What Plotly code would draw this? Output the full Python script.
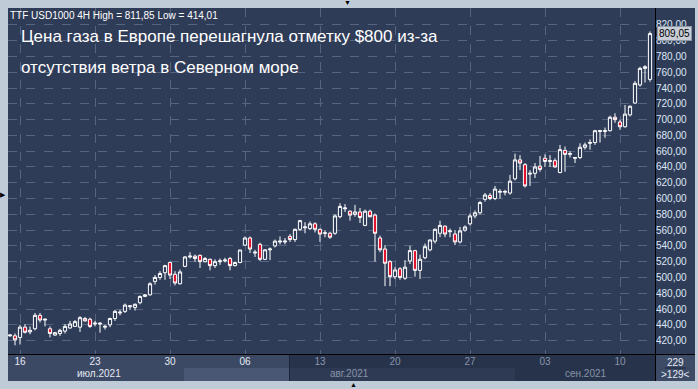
import plotly.graph_objects as go

W, H = 698, 389

# ---------------- data ----------------
bar_index = list(range(129))
open_ = [426, 426, 424, 437, 431, 435, 452, 446, 435, 427,
         429, 432, 436, 438, 437, 448, 447, 441, 441, 437,
         440, 448, 455, 457, 463, 462, 468, 476, 478, 495,
         500, 506, 519, 504, 492, 514, 526, 527, 528, 520,
         523, 515, 520, 521, 524, 515, 519, 541, 550, 531,
         542, 523, 535, 540, 545, 545, 552, 548, 561, 563,
         562, 568, 561, 556, 556, 556, 577, 587, 584, 580,
         583, 566, 584, 579, 550, 536, 520, 501, 511, 499,
         521, 534, 509, 525, 535, 546, 556, 565, 558, 555,
         545, 560, 568, 578, 582, 599, 604, 600, 608, 608,
         607, 625, 649, 643, 631, 632, 641, 651, 647, 648,
         633, 661, 656, 651, 652, 665, 670, 671, 685, 685,
         686, 703, 697, 691, 706, 721, 744, 765, 751]
high_ = [428, 429, 440, 441, 438, 455, 455, 448, 438, 431,
         435, 441, 445, 446, 451, 450, 449, 445, 443, 440,
         449, 459, 459, 467, 464.5, 467, 477, 479, 494, 503,
         508, 516, 520, 508, 510, 527, 532, 529, 529, 526,
         524, 523, 524, 525, 526, 520, 535, 552, 552, 535,
         544, 536, 538, 548, 552, 550, 555, 562, 573, 570,
         571, 570, 562, 560, 558, 580, 594, 593, 585, 592,
         588, 586, 586, 581, 553, 541, 522, 513, 513, 522,
         540, 535, 529, 543, 548, 562, 572, 566, 562, 560,
         564, 566, 581, 585, 597, 607, 607, 616, 612, 611,
         630, 657, 655, 645, 636, 645, 654, 656, 655, 651,
         668, 666, 660, 652.5, 670, 671, 675, 687, 687, 690,
         705, 708, 700, 718.6, 718, 749, 767, 769, 811.85]
low_ = [425, 414.01, 415, 429, 428, 433, 443, 438, 424, 426,
        426, 429, 435, 438, 431, 444, 436, 438, 430, 434,
        437, 445, 452, 455, 459, 458, 466, 475, 477, 491,
        497, 497, 498, 490, 491, 513, 524, 520, 512, 519,
        509, 512, 516, 519, 509, 514, 518, 540, 531, 526,
        521, 522, 522, 538, 542, 542, 545, 545, 559, 556,
        560, 557, 545, 551, 549, 554, 575, 583, 572, 577,
        569, 565, 576, 520, 532, 489, 489, 498, 497, 497,
        517, 501, 498, 523, 533, 543, 551, 551, 551, 541,
        543, 558, 566, 575, 580, 596, 598, 598, 600, 604,
        605, 623, 636, 614, 616, 626, 634, 640, 640, 639,
        632, 634, 652, 645, 650, 662, 662, 668, 671, 677,
        685, 696, 687, 690, 704, 720, 742, 747, 748]
close_ = [427, 421, 437, 430.5, 433, 452, 446, 447, 429, 430,
          433, 438, 441, 444, 449, 445, 438, 442, 442, 438,
          448, 457, 456, 465, 464, 466, 476, 478, 492, 500,
          505, 515, 503, 493, 507, 526, 527, 524, 520, 524,
          515, 520, 521, 522, 515, 519, 534.8, 550, 536, 532,
          523, 535, 536, 546, 546, 546, 548, 561, 572, 564,
          568, 561, 555, 556.5, 551, 578, 590, 588, 579, 583,
          576, 584, 577, 556, 535, 518, 501, 509.5, 500, 513,
          534, 509, 523, 539, 547.5, 561, 566, 555, 559, 545,
          559, 564, 578, 582, 595, 604.5, 600, 612, 609, 609,
          622, 649, 645, 616, 632, 640, 637, 647, 648, 640,
          662, 656, 657, 652, 665, 668, 671, 686, 686, 686,
          703, 700, 691, 707, 717, 746, 765, 767, 809.05]

date_tick_pos = [2, 17, 32, 47, 62, 77, 92, 107, 122]
date_tick_text = ["16", "23", "30", "06", "13", "20", "27", "03", "10"]
month_pos = [17.8, 67.8, 115.1]
month_text = ["июл.2021", "авг.2021", "сен.2021"]
price_ticks = list(range(420, 821, 20))
last_price = 809.05

title_1 = "Цена газа в Европе перешагнула отметку $800 из-за"
title_2 = "отсутствия ветра в Северном море"
header = "TTF USD1000 4H High = 811,85 Low = 414,01"

# ---------------- styling ----------------
BG = "#2f3c58"
FRAME = "#c0cbd8"
GRID = "#56647f"
FONT = "Liberation Sans, Arial, sans-serif"


def px(x):
    return x / W


def py(y):
    return 1 - y / H


fig = go.Figure(go.Candlestick(
    x=bar_index, open=open_, high=high_, low=low_, close=close_,
    increasing=dict(line=dict(color="white", width=1), fillcolor=BG),
    decreasing=dict(line=dict(color="white", width=1), fillcolor="#e3142f"),
    whiskerwidth=0, hoverinfo="skip",
))

bright = "#e4eaf3"
dim = "#8893a8"
ticktext = [("<span style='color:%s'>%s</span>" % (bright if i < 4 else dim, t))
            for i, t in enumerate(date_tick_text)]

fig.update_layout(
    width=W, height=H, margin=dict(l=0, r=0, t=0, b=0),
    paper_bgcolor=FRAME, plot_bgcolor=BG,
    showlegend=False, boxgap=0.2, boxgroupgap=0.2,
    font=dict(family=FONT, color="white"),
    xaxis=dict(
        domain=[px(8), px(655)], range=[-0.4, 129],
        tickmode="array", tickvals=date_tick_pos, ticktext=ticktext,
        showgrid=True, gridcolor=GRID, griddash="dash", gridwidth=1,
        zeroline=False, showline=False, ticks="",
        tickfont=dict(size=10, family=FONT),
        rangeslider=dict(visible=False), fixedrange=True,
    ),
    yaxis=dict(
        domain=[py(354), py(8)], range=[403.0, 841.5], side="right",
        tickmode="array", tickvals=price_ticks,
        ticktext=["%d,00" % v for v in price_ticks],
        showgrid=True, gridcolor=GRID, griddash="dash", gridwidth=1,
        zeroline=False, showline=False, ticks="",
        tickfont=dict(size=10, color="#dde6f4", family=FONT),
        fixedrange=True,
    ),
)

shapes = []
shapes.append(dict(type="rect", xref="paper", yref="paper", layer="below",
                   x0=px(8), x1=px(695), y0=py(381), y1=py(8),
                   fillcolor=BG, line=dict(width=0)))
shapes.append(dict(type="rect", xref="paper", yref="paper", layer="below",
                   x0=px(8), x1=px(655), y0=py(381), y1=py(354),
                   fillcolor="#27334b", line=dict(width=0)))
shapes.append(dict(type="rect", xref="paper", yref="paper", layer="below",
                   x0=px(8), x1=px(289), y0=py(381), y1=py(354),
                   fillcolor="#3c4965", line=dict(width=0)))
shapes.append(dict(type="rect", xref="paper", yref="paper", layer="below",
                   x0=px(184), x1=px(289), y0=py(381), y1=py(368),
                   fillcolor="#4a5774", line=dict(width=0)))
shapes.append(dict(type="rect", xref="paper", yref="paper", layer="below",
                   x0=px(290), x1=px(515), y0=py(381), y1=py(368),
                   fillcolor="#2e3a54", line=dict(width=0)))
shapes.append(dict(type="rect", xref="paper", yref="paper", layer="below",
                   x0=px(656), x1=px(695), y0=py(381), y1=py(355),
                   fillcolor="#3e4b67", line=dict(width=0)))
shapes.append(dict(type="line", xref="paper", yref="paper",
                   x0=px(665), x1=px(686), y0=py(368), y1=py(368),
                   line=dict(color="#1a2233", width=1)))
shapes.append(dict(type="line", xref="paper", yref="paper",
                   x0=px(655.5), x1=px(655.5), y0=py(381), y1=py(8),
                   line=dict(color="black", width=1)))
shapes.append(dict(type="line", xref="paper", yref="paper",
                   x0=px(8), x1=px(695), y0=py(354.5), y1=py(354.5),
                   line=dict(color="black", width=1)))
shapes.append(dict(type="line", xref="paper", yref="paper",
                   x0=px(289.5), x1=px(289.5), y0=py(381), y1=py(355),
                   line=dict(color="#1c2538", width=1)))
fig.update_layout(shapes=shapes)

ann = []
ann.append(dict(xref="paper", yref="paper", x=px(8), y=py(15), xanchor="left",
                yanchor="middle", text=header, showarrow=False,
                font=dict(size=10, color="white", family=FONT)))
ann.append(dict(xref="paper", yref="paper", x=px(19), y=py(37), xanchor="left",
                yanchor="middle", text=title_1, showarrow=False,
                font=dict(size=17, color="white", family=FONT)))
ann.append(dict(xref="paper", yref="paper", x=px(19), y=py(67), xanchor="left",
                yanchor="middle", text=title_2, showarrow=False,
                font=dict(size=17, color="white", family=FONT)))
for i, (p, t) in enumerate(zip(month_pos, month_text)):
    ann.append(dict(xref="x", yref="paper", x=p, y=py(373.5), xanchor="center",
                    yanchor="middle", text=t, showarrow=False,
                    font=dict(size=10, color=bright if i == 0 else dim, family=FONT)))
ann.append(dict(xref="paper", yref="y", x=px(657), y=last_price, xanchor="left",
                yanchor="middle", text="809,05", showarrow=False,
                bgcolor="#c9ced6", bordercolor="#8e96a4", borderwidth=1, borderpad=1,
                font=dict(size=10, color="black", family=FONT)))
ann.append(dict(xref="paper", yref="paper", x=px(675.5), y=py(362), xanchor="center",
                yanchor="middle", text="229", showarrow=False,
                font=dict(size=10, color="#e4eaf3", family=FONT)))
ann.append(dict(xref="paper", yref="paper", x=px(675.5), y=py(374), xanchor="center",
                yanchor="middle", text="&gt;129&lt;", showarrow=False,
                font=dict(size=10, color="#e4eaf3", family=FONT)))
ann.append(dict(xref="paper", yref="paper", x=px(347), y=py(3), xanchor="center",
                yanchor="middle", text="▼", showarrow=False,
                font=dict(size=7, color="black")))
ann.append(dict(xref="paper", yref="paper", x=px(3), y=py(194), xanchor="center",
                yanchor="middle", text="▶", showarrow=False,
                font=dict(size=7, color="black")))
ann.append(dict(xref="paper", yref="paper", x=px(353), y=py(384), xanchor="center",
                yanchor="middle", text="▲", showarrow=False,
                font=dict(size=7, color="black")))
fig.update_layout(annotations=ann)

fig.write_html("out.html", config={"displayModeBar": False, "staticPlot": True},
               post_script="document.body.style.margin='0';document.body.style.overflow='hidden';")
